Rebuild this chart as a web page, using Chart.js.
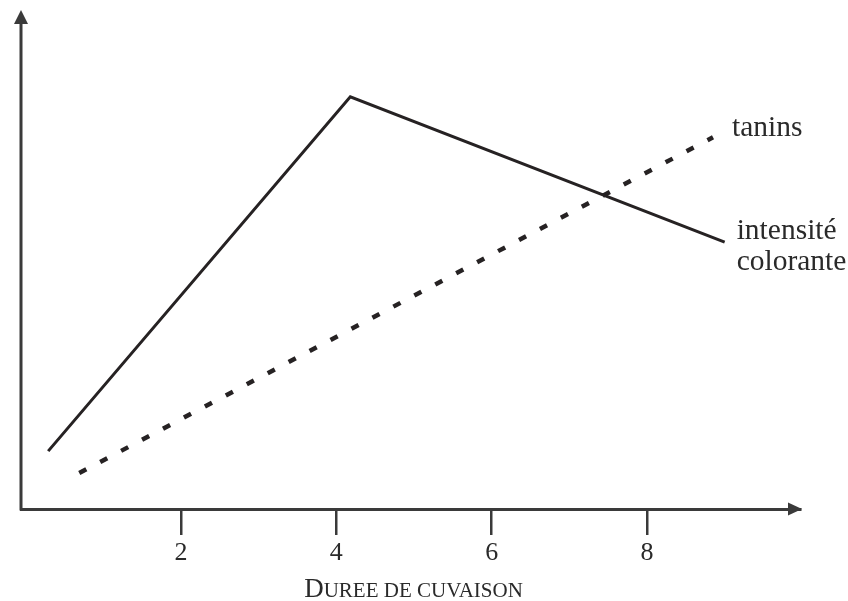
<!DOCTYPE html>
<html><head><meta charset="utf-8">
<script src="https://cdn.jsdelivr.net/npm/chart.js@4.4.0/dist/chart.umd.min.js"></script>
<style>html,body{margin:0;padding:0;background:#fff}#wrap{width:848px;height:601px}</style>
</head><body><div id="wrap"><canvas id="c" width="848" height="601"></canvas></div>
<script>
// ---- data ----
const xTicks = [2, 4, 6, 8];
const intensiteX = [0.29, 4.18, 9.0];
const intensiteY = [11.6, 82.6, 53.5];
const taninsX = [0.69, 8.85];
const taninsY = [7.2, 74.5];
const intensiteLabel = ['intensité', 'colorante'];
const taninsLabel = ['tanins'];
const xTitle = 'Duree de cuvaison';

const ink = '#262223';
const axisInk = '#3a3a3a';
const textInk = '#2a2a2a';
const serif = '"Liberation Serif", "DejaVu Serif", serif';

const toPts = (xs, ys) => xs.map((x, i) => ({x: x, y: ys[i]}));

const decor = {
  id: 'decor',
  afterDraw(chart) {
    const ctx = chart.ctx, a = chart.chartArea;
    ctx.save();
    // y axis line + arrow
    ctx.strokeStyle = axisInk; ctx.fillStyle = axisInk; ctx.lineWidth = 3;
    ctx.beginPath(); ctx.moveTo(a.left, a.bottom + 1.5); ctx.lineTo(a.left, a.top + 10); ctx.stroke();
    ctx.beginPath(); ctx.moveTo(a.left, a.top); ctx.lineTo(a.left - 7, a.top + 14); ctx.lineTo(a.left + 7, a.top + 14); ctx.closePath(); ctx.fill();
    // x axis arrow
    ctx.beginPath(); ctx.moveTo(a.right + 2, a.bottom); ctx.lineTo(a.right - 12, a.bottom - 6.5); ctx.lineTo(a.right - 12, a.bottom + 6.5); ctx.closePath(); ctx.fill();
    // series labels at the end of each line
    ctx.fillStyle = textInk;
    ctx.font = '29.5px ' + serif;
    ctx.textBaseline = 'middle'; ctx.textAlign = 'left';
    const m0 = chart.getDatasetMeta(0), e0 = m0.data[m0.data.length - 1];
    ctx.fillText(intensiteLabel[0], e0.x + 12, e0.y - 11);
    ctx.fillText(intensiteLabel[1], e0.x + 12, e0.y + 20);
    const m1 = chart.getDatasetMeta(1), e1 = m1.data[m1.data.length - 1];
    ctx.fillText(taninsLabel[0], e1.x + 19, e1.y - 9);
    // x axis title in small capitals
    const bigF = '27px ' + serif, smallF = '21px ' + serif;
    const first = xTitle.charAt(0).toUpperCase(), rest = xTitle.slice(1).toUpperCase();
    ctx.textBaseline = 'alphabetic';
    ctx.font = bigF; const w1 = ctx.measureText(first).width;
    ctx.font = smallF; const w2 = ctx.measureText(rest).width;
    const sx = chart.scales.x;
    const cx = (sx.left + sx.right) / 2 + 3;
    const x0 = cx - (w1 + w2) / 2, by = 597;
    ctx.fillStyle = textInk;
    ctx.font = bigF; ctx.fillText(first, x0, by);
    ctx.font = smallF; ctx.fillText(rest, x0 + w1, by);
    ctx.restore();
  }
};

new Chart(document.getElementById('c'), {
  type: 'line',
  data: {
    datasets: [
      { label: intensiteLabel.join(' '), data: toPts(intensiteX, intensiteY), borderColor: ink, borderWidth: 3,
        pointRadius: 0, tension: 0, borderJoinStyle: 'miter', borderCapStyle: 'butt', fill: false },
      { label: taninsLabel[0], data: toPts(taninsX, taninsY), borderColor: ink, borderWidth: 4.5,
        borderDash: [8, 15.7], pointRadius: 0, tension: 0, borderCapStyle: 'butt', fill: false }
    ]
  },
  options: {
    responsive: false, animation: false, devicePixelRatio: 1,
    layout: { padding: { left: 21, right: 48, top: 10, bottom: 0 } },
    plugins: { legend: { display: false }, tooltip: { enabled: false } },
    scales: {
      x: {
        type: 'linear', min: -0.06, max: 9.97,
        afterBuildTicks: s => { s.ticks = xTicks.map(v => ({ value: v })); },
        afterFit: s => { s.height = 92; },
        border: { display: true, color: axisInk, width: 3 },
        grid: { drawOnChartArea: false, drawTicks: true, tickLength: 26, color: axisInk, lineWidth: 2.5 },
        ticks: { font: { family: serif, size: 26 }, color: textInk, padding: 3, maxRotation: 0 },
        title: { display: false }
      },
      y: { type: 'linear', min: 0, max: 100, display: false }
    }
  },
  plugins: [decor]
});
</script>
</body></html>
